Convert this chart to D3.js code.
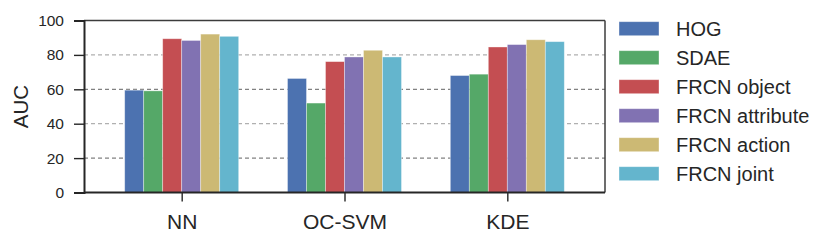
<!DOCTYPE html>
<html>
<head>
<meta charset="utf-8">
<script src="https://cdn.jsdelivr.net/npm/d3@7"></script>
<style>
  html, body { margin: 0; padding: 0; background: #fff; }
  svg { display: block; font-family: "Liberation Sans", Arial, sans-serif; }
</style>
</head>
<body>
<svg id="chart" width="830" height="245"></svg>
<script>
const categories = ["NN", "OC-SVM", "KDE"];
const seriesNames = ["HOG", "SDAE", "FRCN object", "FRCN attribute", "FRCN action", "FRCN joint"];
const HOG = [59.5, 66.3, 68.0];
const SDAE = [59.1, 52.0, 68.8];
const FRCN_object = [89.4, 76.1, 84.6];
const FRCN_attribute = [88.4, 78.8, 86.0];
const FRCN_action = [92.1, 82.7, 88.8];
const FRCN_joint = [90.8, 78.8, 87.7];
const yTicks = [0, 20, 40, 60, 80, 100];
const colors = ["#4C72B0", "#55A868", "#C44E52", "#8172B2", "#CCB974", "#64B5CD"];

const seriesValues = [HOG, SDAE, FRCN_object, FRCN_attribute, FRCN_action, FRCN_joint];

const svg = d3.select("#chart");
const pLeft = 84, pRight = 605, pTop = 20.5, pBottom = 192.5;
const W = pRight - pLeft;

// group centers: 0.6 step of padding at each end, 3.2 steps total
const step = W / 3.2;
const x = d3.scalePoint().domain(categories)
  .range([pLeft + 0.6 * step, pRight - 0.6 * step]);
const groupW = 114;
const xs = d3.scaleBand().domain(seriesNames).range([-groupW / 2, groupW / 2]).padding(0);
const y = d3.scaleLinear().domain([0, 100]).range([pBottom, pTop]);

// gridlines
const grid = svg.append("g");
[20, 40, 60, 80].forEach(v => {
  const light = (v === 40 || v === 80);
  grid.append("line")
    .attr("x1", pLeft).attr("x2", pRight)
    .attr("y1", y(v)).attr("y2", y(v))
    .attr("stroke", light ? "#b0b0b0" : "#3a3a3a")
    .attr("stroke-width", light ? 1.3 : 0.8)
    .attr("stroke-dasharray", "4,3");
});

// bars
const bars = svg.append("g");
seriesValues.forEach((vals, si) => {
  bars.selectAll(null).data(vals).enter().append("rect")
    .attr("x", (d, i) => x(categories[i]) + xs(seriesNames[si]))
    .attr("y", d => y(d))
    .attr("width", xs.bandwidth())
    .attr("height", d => y(0) - y(d))
    .attr("fill", colors[si])
    .attr("stroke", "rgba(255,255,255,0.45)")
    .attr("stroke-width", 0.8);
});

// frame: top & right
svg.append("line").attr("x1", pLeft).attr("x2", pRight).attr("y1", pTop).attr("y2", pTop)
  .attr("stroke", "#3c3c3c").attr("stroke-width", 1.5);
svg.append("line").attr("x1", pRight).attr("x2", pRight).attr("y1", pTop).attr("y2", pBottom)
  .attr("stroke", "#3c3c3c").attr("stroke-width", 1.5);

// axes
const yAxis = svg.append("g").attr("transform", `translate(${pLeft},0)`)
  .call(d3.axisLeft(y).tickValues(yTicks).tickSize(10).tickPadding(10).tickFormat(d3.format("d")));
yAxis.select(".domain").attr("stroke", "#262626").attr("stroke-width", 2);
yAxis.selectAll(".tick line").attr("stroke", "#262626").attr("stroke-width", 1.4);
yAxis.selectAll(".tick text").attr("fill", "#262626").style("font-size", "15.5px")
  .style("font-family", "'Liberation Sans', Arial, sans-serif");

const xAxis = svg.append("g").attr("transform", `translate(0,${pBottom})`)
  .call(d3.axisBottom(x).tickSize(9).tickPadding(12.5).tickSizeOuter(0));
xAxis.select(".domain").attr("stroke", "#262626").attr("stroke-width", 2)
  .attr("d", `M${pLeft},0H${pRight}`);
xAxis.selectAll(".tick line").attr("stroke", "#262626").attr("stroke-width", 1.4);
xAxis.selectAll(".tick text").attr("fill", "#262626").style("font-size", "21px")
  .style("font-family", "'Liberation Sans', Arial, sans-serif");

// y label
svg.append("text")
  .attr("transform", `translate(27.5,${(pTop + pBottom) / 2}) rotate(-90)`)
  .attr("text-anchor", "middle")
  .attr("fill", "#262626")
  .style("font-size", "20.5px")
  .text("AUC");

// legend
const lg = svg.append("g");
seriesNames.forEach((name, i) => {
  const cy = 28.7 + i * 29;
  lg.append("rect").attr("x", 619).attr("y", cy - 7).attr("width", 40).attr("height", 14)
    .attr("fill", colors[i]).attr("stroke", "rgba(255,255,255,0.45)").attr("stroke-width", 0.8);
  lg.append("text").attr("x", 676).attr("y", cy + 7.3).attr("fill", "#262626")
    .style("font-size", "20px").text(name);
});
</script>
</body>
</html>
